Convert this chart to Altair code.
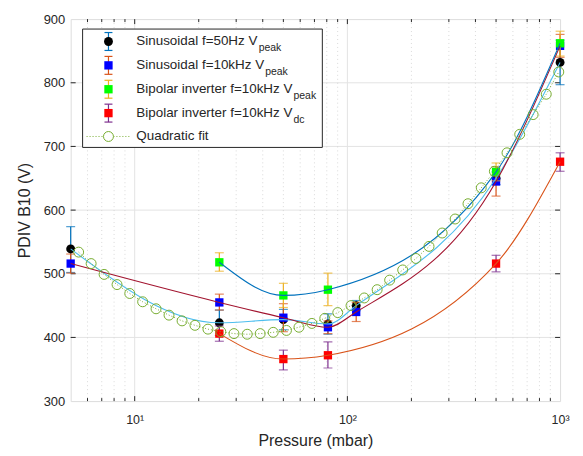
import altair as alt
import pandas as pd

# ---------------- data ----------------
p_50 = [5, 25, 50, 81, 110, 500, 1000]
v_50 = [539, 423, 428, 421, 450, 650, 832]
lo_50 = [502, 403, 412, 405, 442, 640, 797]
hi_50 = [574, 443, 444, 437, 458, 660, 867]

p_10 = [5, 25, 50, 81, 110, 500, 1000]
v_10 = [516, 455, 431, 416, 440, 645, 858]
lo_10 = [501, 443, 409, 406, 425, 622, 840]
hi_10 = [531, 468, 453, 426, 455, 668, 876]

p_bp = [25, 50, 81, 500, 1000]
v_bp = [518, 466, 475, 660, 862]
lo_bp = [504, 447, 450, 646, 842]
hi_bp = [533, 485, 501, 674, 881]

p_dc = [25, 50, 81, 500, 1000]
v_dc = [406, 366, 372, 516, 676]
lo_dc = [394, 349, 352, 503, 661]
hi_dc = [418, 380, 393, 529, 690]

fit_p = [5.45, 6.24, 7.18, 8.26, 9.48, 10.9, 12.6, 14.5, 16.7, 19.2, 22.1, 25.4,
         29.3, 33.8, 38.9, 44.8, 51.7, 59.2, 68.1, 78.3, 90.1, 104, 120, 138, 158,
         182, 210, 242, 279, 321, 369, 426, 491, 563, 646, 747, 861, 986]
fit_v = [534, 516, 499, 483, 469, 456, 445, 435, 426, 419, 413, 409, 406, 405,
         406, 408, 411, 416, 422, 430, 439, 450, 462, 475, 490, 506, 524, 543,
         564, 586, 610, 635, 661, 690, 719, 750, 782, 817]

x_labels = {10: "10¹", 100: "10²", 1000: "10³"}
y_ticks = [300, 400, 500, 600, 700, 800, 900]
x_minor = [6, 7, 8, 9, 20, 30, 40, 50, 60, 70, 80, 90, 200, 300, 400, 500, 600, 700, 800, 900]
x_major = [10, 100]
y_inner = [400, 500, 600, 700, 800]

series = [
    ("50Hz", p_50, v_50, lo_50, hi_50, "circle", "#000000", "#0072BD", "#4DBEEE",
     "Sinusoidal f=50Hz V", "peak"),
    ("10kHz", p_10, v_10, lo_10, hi_10, "square", "#0000FF", "#D95319", "#A2142F",
     "Sinusoidal f=10kHz V", "peak"),
    ("bp", p_bp, v_bp, lo_bp, hi_bp, "square", "#00FF00", "#EDB120", "#0072BD",
     "Bipolar inverter f=10kHz V", "peak"),
    ("dc", p_dc, v_dc, lo_dc, hi_dc, "square", "#FF0000", "#7E2F8E", "#D95319",
     "Bipolar inverter f=10kHz V", "dc"),
]

# ---------------- styling ----------------
W, H = 492, 384
FONT = "Liberation Sans"
INK = "#262626"
xscale = alt.Scale(type="log", domain=[5, 1000], nice=False)
yscale = alt.Scale(domain=[300, 900], nice=False)

label_expr = " : ".join(
    [f"datum.value == {k} ? '{v}'" for k, v in x_labels.items()]) + " : ''"
xaxis = alt.Axis(values=list(x_labels.keys()), labelExpr=label_expr, grid=False,
                 ticks=False, domain=False, title="Pressure (mbar)",
                 labelFontSize=12.5, titleFontSize=16, labelPadding=13, titlePadding=6,
                 labelColor=INK, titleColor=INK, labelFont=FONT, titleFont=FONT,
                 titleFontWeight="normal", labelFlush=False)
yaxis = alt.Axis(values=y_ticks, format="d", grid=False, ticks=False, domain=False,
                 title="PDIV B10 (V)", labelFontSize=13, titleFontSize=16,
                 labelPadding=6, titlePadding=11, labelColor=INK, titleColor=INK,
                 labelFont=FONT, titleFont=FONT, titleFontWeight="normal",
                 labelFlush=False)


def X(field):
    return alt.X(field, type="quantitative", scale=xscale, axis=xaxis,
                 title="Pressure (mbar)")


def Y(field):
    return alt.Y(field, type="quantitative", scale=yscale, axis=yaxis,
                 title="PDIV B10 (V)")


layers = []

# grid
grid_major = pd.DataFrame({"t": x_major})
grid_minor = pd.DataFrame({"t": x_minor})
grid_y = pd.DataFrame({"v": y_inner})
layers.append(alt.Chart(grid_y).mark_rule(color="#e3e3e3", strokeWidth=1).encode(
    y=Y("v"), x=alt.value(0), x2=alt.value(W)))
layers.append(alt.Chart(grid_minor).mark_rule(color="#d0d0d0", strokeWidth=0.8,
                                              strokeDash=[1, 3]).encode(
    x=X("t"), y=alt.value(0), y2=alt.value(H)))
layers.append(alt.Chart(grid_major).mark_rule(color="#e3e3e3", strokeWidth=1).encode(
    x=X("t"), y=alt.value(0), y2=alt.value(H)))

# tick marks (inward, on all four sides)
for y0, y1 in [(H, H - 5), (0, 5)]:
    layers.append(alt.Chart(grid_major).mark_rule(color=INK, strokeWidth=1).encode(
        x=X("t"), y=alt.value(y0), y2=alt.value(y1)))
for y0, y1 in [(H, H - 3), (0, 3)]:
    layers.append(alt.Chart(grid_minor).mark_rule(color=INK, strokeWidth=1).encode(
        x=X("t"), y=alt.value(y0), y2=alt.value(y1)))
for x0, x1 in [(0, 5), (W, W - 5)]:
    layers.append(alt.Chart(grid_y).mark_rule(color=INK, strokeWidth=1).encode(
        y=Y("v"), x=alt.value(x0), x2=alt.value(x1)))

# error bars and markers
for name, p, v, lo, hi, shape, mcol, bcol, ccol, lab, sub in series:
    df = pd.DataFrame({"p": p, "v": v, "lo": lo, "hi": hi})
    layers.append(alt.Chart(df).mark_rule(color=bcol, strokeWidth=1.2).encode(
        x=X("p"), y=Y("lo"), y2="hi"))
    for f in ["lo", "hi"]:
        layers.append(alt.Chart(df).mark_tick(color=bcol, orient="horizontal",
                                              size=9, thickness=1.2).encode(
            x=X("p"), y=Y(f)))
    layers.append(alt.Chart(df).mark_point(shape=shape, filled=True,
                                           size=80 if shape == "circle" else 70,
                                           color=mcol, opacity=1).encode(
        x=X("p"), y=Y("v")))

# smooth curves through each series
for name, p, v, lo, hi, shape, mcol, bcol, ccol, lab, sub in series:
    df = pd.DataFrame({"p": p, "v": v})
    layers.append(alt.Chart(df).mark_line(color=ccol, strokeWidth=1.1,
                                          interpolate="monotone").encode(
        x=X("p"), y=Y("v")))

# quadratic fit
fit_df = pd.DataFrame({"p": fit_p, "v": fit_v})
layers.append(alt.Chart(fit_df).mark_line(color="#77AC30", strokeWidth=1,
                                          strokeDash=[1, 2]).encode(
    x=X("p"), y=Y("v")))
layers.append(alt.Chart(fit_df).mark_point(shape="circle", filled=False, size=100,
                                           color="#77AC30", strokeWidth=1,
                                           opacity=1).encode(
    x=X("p"), y=Y("v")))

# ---------------- custom legend ----------------
one = alt.Data(values=[{"a": 1}])
LX0, LX1, LY0, LY1 = 12, 253, 10, 129
SYM_X, TXT_X = 38, 66
row_y = [22.5, 46.5, 70.5, 94.5, 118]
sub_x = [189, 195.5, 224, 224]

layers.append(alt.Chart(one).mark_rect(fill="white", stroke=INK, strokeWidth=1).encode(
    x=alt.value(LX0), x2=alt.value(LX1), y=alt.value(LY0), y2=alt.value(LY1)))

for i, (name, p, v, lo, hi, shape, mcol, bcol, ccol, lab, sub) in enumerate(series):
    yc = row_y[i]
    layers.append(alt.Chart(one).mark_rule(color=bcol, strokeWidth=1.2).encode(
        x=alt.value(SYM_X), y=alt.value(yc - 9), y2=alt.value(yc + 9)))
    for yy in [yc - 9, yc + 9]:
        layers.append(alt.Chart(one).mark_rule(color=bcol, strokeWidth=1.2).encode(
            x=alt.value(SYM_X - 4), x2=alt.value(SYM_X + 4), y=alt.value(yy)))
    layers.append(alt.Chart(one).mark_point(shape=shape, filled=True,
                                            size=80 if shape == "circle" else 70,
                                            color=mcol, opacity=1).encode(
        x=alt.value(SYM_X), y=alt.value(yc)))
    layers.append(alt.Chart(one).mark_text(text=lab, align="left", baseline="middle",
                                           font=FONT, fontSize=13.5, color=INK).encode(
        x=alt.value(TXT_X), y=alt.value(yc)))
    layers.append(alt.Chart(one).mark_text(text=sub, align="left", baseline="middle",
                                           font=FONT, fontSize=10.5, color=INK).encode(
        x=alt.value(sub_x[i]), y=alt.value(yc + 7)))

yc = row_y[4]
layers.append(alt.Chart(one).mark_rule(color="#77AC30", strokeWidth=1,
                                       strokeDash=[1, 2]).encode(
    x=alt.value(16), x2=alt.value(61), y=alt.value(yc)))
layers.append(alt.Chart(one).mark_point(shape="circle", filled=True, size=100,
                                        color="#77AC30", fill="white", stroke="#77AC30",
                                        strokeWidth=1, opacity=1).encode(
    x=alt.value(SYM_X), y=alt.value(yc)))
layers.append(alt.Chart(one).mark_text(text="Quadratic fit", align="left",
                                       baseline="middle", font=FONT, fontSize=13.5,
                                       color=INK).encode(
    x=alt.value(TXT_X), y=alt.value(yc)))

chart = alt.layer(*layers).properties(
    width=W, height=H,
    padding={"left": 8, "top": 4, "right": 5, "bottom": 0},
).configure_view(stroke=INK, strokeWidth=1.3).configure(background="white")

chart.save("out.html", embed_options={"renderer": "svg", "actions": False})
